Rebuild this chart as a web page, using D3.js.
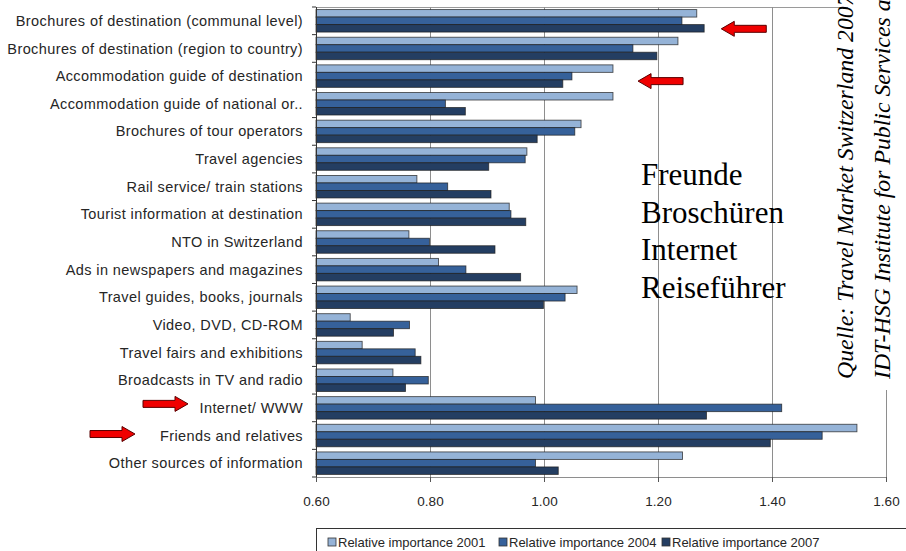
<!DOCTYPE html>
<html>
<head>
<meta charset="utf-8">
<script src="https://cdn.jsdelivr.net/npm/d3@7"></script>
<style>
  html, body { margin: 0; padding: 0; background: #fff; }
  svg { display: block; }
</style>
</head>
<body>
<svg id="chart" width="906" height="551"></svg>
<script>
// Information sources and their relative importance per survey year
const categories = [
  "Brochures of destination (communal level)",
  "Brochures of destination (region to country)",
  "Accommodation guide of destination",
  "Accommodation guide of national or..",
  "Brochures of tour operators",
  "Travel agencies",
  "Rail service/ train stations",
  "Tourist information at destination",
  "NTO in Switzerland",
  "Ads in newspapers and magazines",
  "Travel guides, books, journals",
  "Video, DVD, CD-ROM",
  "Travel fairs and exhibitions",
  "Broadcasts in TV and radio",
  "Internet/ WWW",
  "Friends and relatives",
  "Other sources of information"
];

const seriesNames = ["Relative importance 2001", "Relative importance 2004", "Relative importance 2007"];

const values2001 = [1.268, 1.235, 1.121, 1.121, 1.065, 0.970, 0.777, 0.939, 0.763, 0.815, 1.058, 0.660, 0.681, 0.735, 0.985, 1.549, 1.243];
const values2004 = [1.242, 1.156, 1.049, 0.827, 1.054, 0.967, 0.831, 0.942, 0.799, 0.863, 1.037, 0.764, 0.774, 0.797, 1.417, 1.488, 0.985];
const values2007 = [1.281, 1.198, 1.033, 0.862, 0.988, 0.903, 0.907, 0.968, 0.914, 0.959, 0.999, 0.736, 0.784, 0.757, 1.285, 1.397, 1.025];

const xTicks = [0.60, 0.80, 1.00, 1.20, 1.40, 1.60];
const seriesColors = ["#95b3d7", "#36619a", "#243e62"];

const overlayWords = ["Freunde", "Broschüren", "Internet", "Reiseführer"];
const sourceLines = [
  "Quelle: Travel Market Switzerland 2007",
  "IDT-HSG Institute for Public Services and Tourism"
];

// Arrows pointing at highlighted rows: [category index, tip value, direction, row offset]
const arrowNotes = [
  { cat: 0, tip: 1.311, dir: -1, dy: 8 },
  { cat: 2, tip: 1.165, dir: -1, dy: 5 },
  { cat: 14, tipPx: 188, dir: 1, dy: -4 },
  { cat: 15, tipPx: 135, dir: 1, dy: -1.5 }
];

const series = [values2001, values2004, values2007];

const svg = d3.select("#chart");
const plot = { left: 316, right: 886, top: 7, bottom: 477 };

const x = d3.scaleLinear().domain([0.6, 1.6]).range([plot.left, plot.right]);
const y = d3.scaleBand().domain(categories).range([plot.top, plot.bottom])
  .paddingInner(0.186).paddingOuter(0.093);
const ySub = d3.scaleBand().domain(d3.range(series.length)).range([0, y.bandwidth()]);

// Plot frame (top edge) and vertical gridlines
svg.append("line")
  .attr("x1", plot.left).attr("x2", plot.right)
  .attr("y1", plot.top + 0.5).attr("y2", plot.top + 0.5)
  .attr("stroke", "#9a9a9a").attr("stroke-width", 1);

svg.append("g").selectAll("line")
  .data(xTicks.slice(1))
  .join("line")
  .attr("x1", d => Math.round(x(d)) + 0.5).attr("x2", d => Math.round(x(d)) + 0.5)
  .attr("y1", plot.top).attr("y2", plot.bottom)
  .attr("stroke", "#8e8e8e").attr("stroke-width", 1);

// Bars
const rows = svg.append("g").selectAll("g")
  .data(categories)
  .join("g")
  .attr("transform", d => `translate(0,${y(d)})`);

rows.selectAll("rect")
  .data((d, i) => series.map((s, k) => ({ k, v: s[i] })))
  .join("rect")
  .attr("x", x(0.6))
  .attr("y", d => ySub(d.k))
  .attr("width", d => x(d.v) - x(0.6))
  .attr("height", ySub.bandwidth())
  .attr("fill", d => seriesColors[d.k])
  .attr("stroke", "#1c1c1c")
  .attr("stroke-opacity", 0.75)
  .attr("stroke-width", 0.9);

// Overlay keywords
svg.append("text")
  .attr("font-family", "'Liberation Serif', 'Times New Roman', serif")
  .attr("font-size", 31)
  .attr("fill", "#000")
  .selectAll("tspan")
  .data(overlayWords)
  .join("tspan")
  .attr("x", 641)
  .attr("y", (d, i) => 185 + i * 37.6)
  .text(d => d);

// Y axis: categories with boundary ticks
const yAxis = svg.append("g");
yAxis.append("line")
  .attr("x1", plot.left + 0.5).attr("x2", plot.left + 0.5)
  .attr("y1", plot.top).attr("y2", plot.bottom)
  .attr("stroke", "#333").attr("stroke-width", 1);
yAxis.selectAll("line.tick")
  .data(d3.range(categories.length + 1))
  .join("line")
  .attr("class", "tick")
  .attr("x1", plot.left - 4).attr("x2", plot.left)
  .attr("y1", i => plot.top + i * (plot.bottom - plot.top) / categories.length)
  .attr("y2", i => plot.top + i * (plot.bottom - plot.top) / categories.length)
  .attr("stroke", "#333");
yAxis.selectAll("text")
  .data(categories)
  .join("text")
  .attr("x", 303)
  .attr("y", d => y(d) + y.bandwidth() / 2)
  .attr("dy", "0.35em")
  .attr("text-anchor", "end")
  .attr("font-family", "'Liberation Sans', Arial, sans-serif")
  .attr("font-size", 14.5)
  .attr("letter-spacing", 0.4)
  .attr("fill", "#262626")
  .text(d => d);

// X axis
const xAxis = svg.append("g")
  .attr("transform", `translate(0,${plot.bottom})`)
  .call(d3.axisBottom(x).tickValues(xTicks).tickFormat(d3.format(".2f")).tickSize(5).tickPadding(14));
xAxis.select(".domain").attr("stroke", "#8e8e8e");
xAxis.selectAll(".tick line").attr("stroke", "#555");
xAxis.selectAll("text")
  .attr("font-family", "'Liberation Sans', Arial, sans-serif")
  .attr("font-size", 13.5)
  .attr("fill", "#262626");

// Red annotation arrows
function arrowPath(tipX, cy, dir) {
  const len = 45, head = 13, hh = 7.5, bh = 3.5;
  const tail = tipX - dir * len, neck = tipX - dir * head;
  return `M${tipX},${cy} L${neck},${cy - hh} L${neck},${cy - bh} L${tail},${cy - bh} ` +
         `L${tail},${cy + bh} L${neck},${cy + bh} L${neck},${cy + hh} Z`;
}
svg.append("g").selectAll("path")
  .data(arrowNotes)
  .join("path")
  .attr("d", d => {
    const cy = y(categories[d.cat]) + y.bandwidth() / 2 + d.dy;
    const tipX = d.tip !== undefined ? x(d.tip) : d.tipPx;
    return arrowPath(tipX, cy, d.dir);
  })
  .attr("fill", "#f00000")
  .attr("stroke", "#5a0000")
  .attr("stroke-width", 1);

// Source note box, rotated
svg.append("rect")
  .attr("x", 848).attr("y", 0).attr("width", 58).attr("height", 390)
  .attr("fill", "#fff");
svg.append("g")
  .attr("transform", "translate(853,379) rotate(-90)")
  .append("text")
  .attr("font-family", "'Liberation Serif', 'Times New Roman', serif")
  .attr("font-style", "italic")
  .attr("font-size", 23.8)
  .attr("fill", "#000")
  .selectAll("tspan")
  .data(sourceLines)
  .join("tspan")
  .attr("x", 0)
  .attr("y", (d, i) => i * 37)
  .text(d => d);

// Legend
const legend = svg.append("g");
legend.append("rect")
  .attr("x", 316.5).attr("y", 528.5).attr("width", 620).attr("height", 40)
  .attr("fill", "#fff").attr("stroke", "#333");
const legendX = [328, 499, 662];
const items = legend.selectAll("g.item")
  .data(seriesNames)
  .join("g")
  .attr("class", "item")
  .attr("transform", (d, i) => `translate(${legendX[i]},0)`);
items.append("rect")
  .attr("x", 0).attr("y", 538).attr("width", 8).attr("height", 8)
  .attr("fill", (d, i) => seriesColors[i])
  .attr("stroke", "#333").attr("stroke-width", 0.8);
items.append("text")
  .attr("x", 10).attr("y", 547)
  .attr("font-family", "'Liberation Sans', Arial, sans-serif")
  .attr("font-size", 13)
  .attr("fill", "#262626")
  .text(d => d);
</script>
</body>
</html>
